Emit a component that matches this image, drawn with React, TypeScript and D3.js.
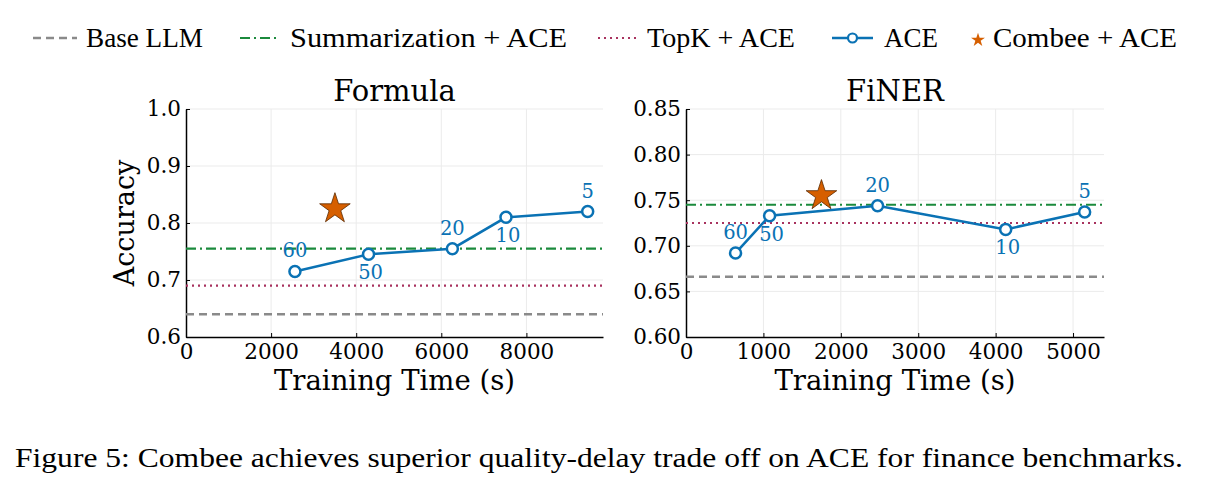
import React, { useRef, useEffect } from 'react';
import * as d3 from 'd3';

// legend entries
const legendLabels = ['Base LLM', 'Summarization + ACE', 'TopK + ACE', 'ACE', 'Combee + ACE'];

// Formula panel
const formulaTime = [2560, 4290, 6260, 7520, 9440];
const formulaAcc = [0.715, 0.745, 0.755, 0.81, 0.82];
const formulaCombee = [3500, 0.825];
const formulaRefs = [0.64, 0.755, 0.69]; // base, summarization, topk
const formulaXTicks = [0, 2000, 4000, 6000, 8000];
const formulaYTicks = [0.6, 0.7, 0.8, 0.9, 1.0];

// FiNER panel
const finerTime = [640, 1080, 2475, 4130, 5150];
const finerAcc = [0.692, 0.733, 0.744, 0.718, 0.737];
const finerCombee = [1750, 0.755];
const finerRefs = [0.666, 0.745, 0.725];
const finerXTicks = [0, 1000, 2000, 3000, 4000, 5000];
const finerYTicks = [0.6, 0.65, 0.7, 0.75, 0.8, 0.85];

// batch size labels on ACE points
const batchLabels = ['60', '50', '20', '10', '5'];
const labelSide = ['above', 'below', 'above', 'below', 'above'];

const caption = 'Figure 5: Combee achieves superior quality-delay trade off on ACE for finance benchmarks.';

const GRAY = '#8a8a8a';
const GREEN = '#1b8a3c';
const PINK = '#a8325f';
const BLUE = '#0a72b4';
const ORANGE = '#d65f00';
const SERIF = "'DejaVu Serif', serif";
const TEXT = "'Liberation Serif', 'Times New Roman', Times, serif";

const refStyles = [
  { color: GRAY, dash: '8,5', width: 2.5 },
  { color: GREEN, dash: '10,4,2,4', width: 2.2 },
  { color: PINK, dash: '2,4', width: 2.2 },
];

const panels = [
  { title: 'Formula', x: formulaTime, y: formulaAcc, star: formulaCombee, refs: formulaRefs,
    xTicks: formulaXTicks, yTicks: formulaYTicks, xMax: 9800, yDom: [0.6, 1.0], fmt: '.1f',
    left: 186, right: 603, ylabel: true },
  { title: 'FiNER', x: finerTime, y: finerAcc, star: finerCombee, refs: finerRefs,
    xTicks: finerXTicks, yTicks: finerYTicks, xMax: 5400, yDom: [0.6, 0.85], fmt: '.2f',
    left: 686, right: 1104, ylabel: false },
];

const App = () => {
  const svgRef = useRef<SVGSVGElement>(null);

  useEffect(() => {
    const svg = d3.select(svgRef.current);
    svg.selectAll('*').remove();

    const top = 109, bottom = 337;
    const star = d3.symbol().type(d3.symbolStar);

    panels.forEach(p => {
      const x = d3.scaleLinear().domain([0, p.xMax]).range([p.left, p.right]);
      const y = d3.scaleLinear().domain(p.yDom).range([bottom, top]);
      const g = svg.append('g');

      // grid
      g.selectAll('.gx').data(p.xTicks.slice(1)).enter().append('line')
        .attr('x1', d => x(d)).attr('x2', d => x(d)).attr('y1', top).attr('y2', bottom)
        .attr('stroke', '#ebebeb').attr('stroke-width', 1);
      g.selectAll('.gy').data(p.yTicks.slice(1)).enter().append('line')
        .attr('x1', p.left).attr('x2', p.right).attr('y1', d => y(d)).attr('y2', d => y(d))
        .attr('stroke', '#ebebeb').attr('stroke-width', 1);

      // axes
      const xAxis = g.append('g')
        .attr('transform', `translate(0,${bottom})`)
        .call(d3.axisBottom(x).tickValues(p.xTicks).tickFormat(d3.format('d'))
          .tickSizeInner(-4).tickSizeOuter(0).tickPadding(7));
      const yAxis = g.append('g')
        .attr('transform', `translate(${p.left},0)`)
        .call(d3.axisLeft(y).tickValues(p.yTicks).tickFormat(d3.format(p.fmt))
          .tickSizeInner(-4).tickSizeOuter(0).tickPadding(5));
      [xAxis, yAxis].forEach(a => {
        a.attr('font-family', null).attr('font-size', null);
        a.select('.domain').attr('stroke', '#000').attr('stroke-width', 1.5);
        a.selectAll('text').attr('fill', '#000')
          .style('font-family', SERIF).style('font-size', '21.5px');
      });

      // reference lines
      p.refs.forEach((v, i) => {
        const s = refStyles[i];
        g.append('line')
          .attr('x1', p.left).attr('x2', p.right).attr('y1', y(v)).attr('y2', y(v))
          .attr('stroke', s.color).attr('stroke-width', s.width).attr('stroke-dasharray', s.dash);
      });

      // ACE line
      const pts = p.x.map((t, i) => [t, p.y[i]] as [number, number]);
      g.append('path').datum(pts)
        .attr('d', d3.line().x(d => x(d[0])).y(d => y(d[1])))
        .attr('fill', 'none').attr('stroke', BLUE).attr('stroke-width', 2.5);
      g.selectAll('.pt').data(pts).enter().append('circle')
        .attr('cx', d => x(d[0])).attr('cy', d => y(d[1])).attr('r', 5.5)
        .attr('fill', '#fff').attr('stroke', BLUE).attr('stroke-width', 2.5);
      g.selectAll('.lbl').data(pts).enter().append('text')
        .attr('x', (d, i) => x(d[0]) + (labelSide[i] === 'below' ? 2 : 0))
        .attr('y', (d, i) => y(d[1]) + (labelSide[i] === 'above' ? -21 : 18))
        .attr('dy', '0.36em')
        .attr('text-anchor', 'middle')
        .style('font-family', SERIF).style('font-size', '19.5px').attr('fill', BLUE)
        .text((d, i) => batchLabels[i]);

      // Combee star
      g.append('path')
        .attr('d', star.size(290)())
        .attr('transform', `translate(${x(p.star[0])},${y(p.star[1])})`)
        .attr('fill', ORANGE).attr('stroke', '#5a2a00').attr('stroke-width', 0.8);

      // title + labels
      g.append('text')
        .attr('x', (p.left + p.right) / 2).attr('y', 101)
        .attr('text-anchor', 'middle').style('font-family', SERIF).style('font-size', '29px')
        .text(p.title);
      g.append('text')
        .attr('x', (p.left + p.right) / 2).attr('y', 390)
        .attr('text-anchor', 'middle').style('font-family', SERIF).style('font-size', '27.5px')
        .text('Training Time (s)');
      if (p.ylabel) {
        g.append('text')
          .attr('transform', `translate(134,${(top + bottom) / 2}) rotate(-90)`)
          .attr('text-anchor', 'middle').style('font-family', SERIF).style('font-size', '27px')
          .text('Accuracy');
      }
    });

    // legend
    const legendX = [
      { s: 33, e: 77, t: 86, w: 117 },
      { s: 240, e: 280, t: 290, w: 277 },
      { s: 598, e: 640, t: 647, w: 148 },
      { s: 832, e: 873, t: 884, w: 54 },
      { s: 972, e: 984, t: 993, w: 184 },
    ];
    const ly = 38;
    const legend = svg.append('g');
    legendLabels.forEach((label, i) => {
      const L = legendX[i];
      if (i < 3) {
        const s = refStyles[i];
        legend.append('line').attr('x1', L.s).attr('x2', L.e).attr('y1', ly).attr('y2', ly)
          .attr('stroke', s.color).attr('stroke-width', s.width).attr('stroke-dasharray', s.dash);
      } else if (i === 3) {
        legend.append('line').attr('x1', L.s).attr('x2', L.e).attr('y1', ly).attr('y2', ly)
          .attr('stroke', BLUE).attr('stroke-width', 2.5);
        legend.append('circle').attr('cx', (L.s + L.e) / 2).attr('cy', ly).attr('r', 4.5)
          .attr('fill', '#fff').attr('stroke', BLUE).attr('stroke-width', 2.2);
      } else {
        legend.append('path').attr('d', star.size(60)())
          .attr('transform', `translate(${(L.s + L.e) / 2},${ly + 2})`)
          .attr('fill', ORANGE);
      }
      legend.append('text')
        .attr('x', L.t).attr('y', 47)
        .style('font-family', TEXT).style('font-size', '27px')
        .attr('textLength', L.w).attr('lengthAdjust', 'spacingAndGlyphs')
        .text(label);
    });

    svg.append('text')
      .attr('x', 15).attr('y', 467)
      .style('font-family', TEXT).style('font-size', '27px')
      .attr('textLength', 1168).attr('lengthAdjust', 'spacingAndGlyphs')
      .text(caption);
  }, []);

  return (
    <svg ref={svgRef} width={1224} height={492}
      style={{ position: 'absolute', left: 0, top: 0, background: '#fff' }} />
  );
};

export default App;
